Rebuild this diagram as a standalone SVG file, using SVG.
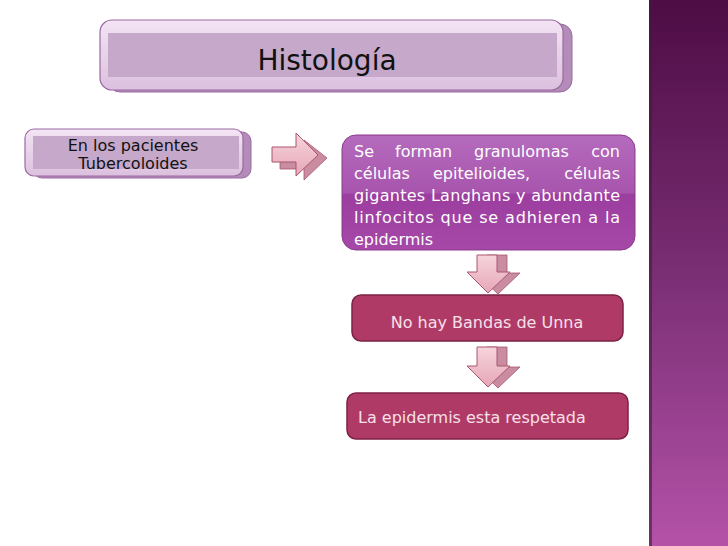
<svg xmlns="http://www.w3.org/2000/svg" width="728" height="546" viewBox="0 0 728 546">
<defs>
<linearGradient id="bar" x1="0" y1="0" x2="0" y2="1">
<stop offset="0" stop-color="#4d0c44"/>
<stop offset="0.5" stop-color="#7a2e74"/>
<stop offset="1" stop-color="#b452a8"/>
</linearGradient>
<linearGradient id="lav" x1="0" y1="0" x2="0" y2="1">
<stop offset="0" stop-color="#f3e4f4"/>
<stop offset="1" stop-color="#dcc0df"/>
</linearGradient>
<linearGradient id="purp" x1="0" y1="0" x2="0" y2="1">
<stop offset="0" stop-color="#b46bbd"/>
<stop offset="0.5" stop-color="#a855ad"/>
<stop offset="0.52" stop-color="#9c3e9f"/>
<stop offset="1" stop-color="#a648a8"/>
</linearGradient>
<linearGradient id="arr" x1="0" y1="0" x2="0" y2="1">
<stop offset="0" stop-color="#f6d4dc"/>
<stop offset="1" stop-color="#e6a7b8"/>
</linearGradient>
<style>
.t{font-family:"DejaVu Sans","Liberation Sans",sans-serif;}
.lavb{fill:url(#lav);stroke:#9b6aa1;stroke-width:1.2;}
.lavs{fill:#b48cb9;stroke:#9b6aa1;stroke-width:1;}
.band{fill:#c5a8ca;}
.crim{fill:#b03a66;stroke:#7c2246;stroke-width:1.5;}
.ct{fill:#f7e0ea;font-size:16px;}
.af{fill:url(#arr);stroke:#a9566f;stroke-width:1;}
.as{fill:#c98ca0;stroke:#a9566f;stroke-width:0.8;}
</style>
</defs>
<rect x="0" y="0" width="728" height="546" fill="#ffffff"/>
<rect x="649" y="0" width="79" height="546" fill="url(#bar)"/>
<rect x="649" y="0" width="3" height="546" fill="#3a2036" opacity="0.6"/>

<g id="title">
<rect class="lavs" x="108" y="24" width="464" height="68" rx="12"/>
<rect class="lavb" x="100" y="20" width="463" height="70" rx="12"/>
<rect class="band" x="108" y="33" width="449" height="44"/>
<text class="t" x="327" y="70" font-size="28" text-anchor="middle" fill="#111">Histología</text>
</g>

<g id="pacientes">
<rect class="lavs" x="33" y="132" width="218" height="46" rx="9"/>
<rect class="lavb" x="25" y="129" width="218" height="47" rx="9"/>
<rect class="band" x="33" y="136" width="206" height="33"/>
<text class="t" x="133" y="151" font-size="16" text-anchor="middle" fill="#111">En los pacientes</text>
<text class="t" x="133" y="169" font-size="16" text-anchor="middle" fill="#111">Tubercoloides</text>
</g>

<g id="granulomas">
<rect x="342" y="135" width="293" height="115" rx="14" fill="url(#purp)" stroke="#8a3a8e" stroke-width="1"/>
<g class="t" font-size="16" fill="#ffffff">
<text x="354" y="157">Se</text>
<text x="395" y="157">forman</text>
<text x="474" y="157">granulomas</text>
<text x="620" y="157" text-anchor="end">con</text>
<text x="354" y="179">células</text>
<text x="433" y="179">epitelioides,</text>
<text x="620" y="179" text-anchor="end">células</text>
<text x="354" y="201" textLength="266" lengthAdjust="spacing">gigantes Langhans y abundante</text>
<text x="354" y="223" textLength="266" lengthAdjust="spacing">linfocitos que se adhieren a la</text>
<text x="354" y="245">epidermis</text>
</g>
</g>

<g id="unna">
<rect class="crim" x="352" y="295" width="271" height="46" rx="9"/>
<text class="t ct" x="487" y="328" text-anchor="middle">No hay Bandas de Unna</text>
</g>

<g id="epidermis">
<rect class="crim" x="347" y="393" width="281" height="46" rx="9"/>
<text class="t ct" x="358" y="423">La epidermis esta respetada</text>
</g>

<g id="connectors">
<polygon class="as" points="280,151 304,151 304,140 327,158 304,180 304,169 280,169"/>
<polygon class="af" points="272,147 296,147 296,133 318,155 296,176 296,162 272,162"/>
<polygon class="as" points="487,255 507,255 507,273 520,273 498,294 476,273 487,273"/>
<polygon class="af" points="477,255 497,255 497,272 510,272 488,293 467,272 477,272"/>
<polygon class="as" points="487,347 507,347 507,367 520,367 498,388 476,367 487,367"/>
<polygon class="af" points="477,347 497,347 497,366 510,366 488,387 467,366 477,366"/>
</g>
</svg>
